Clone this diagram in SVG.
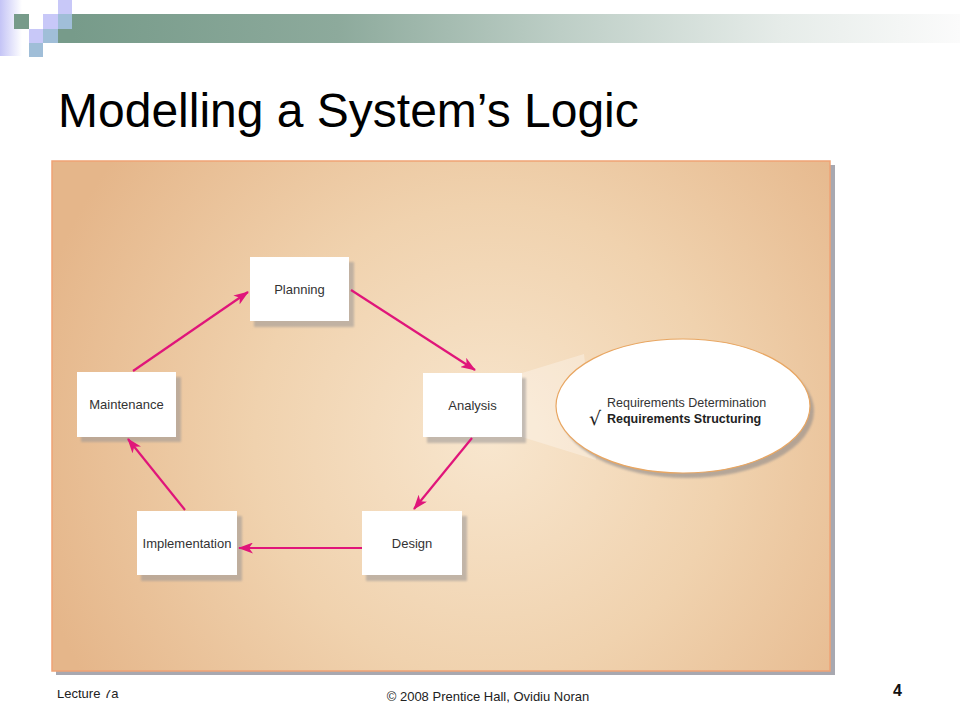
<svg xmlns="http://www.w3.org/2000/svg" width="960" height="720" viewBox="0 0 960 720">
<style>
.lbl{font-family:"Liberation Sans",Arial,sans-serif;font-size:13px;fill:#333;text-anchor:middle}
.box{fill:#fff}
.shd{fill:#9a9696;opacity:0.55}
.conn{stroke:#E0157A;stroke-width:2.2;fill:none;marker-end:url(#ah)}
.foot{font-family:"Liberation Sans",Arial,sans-serif;font-size:13px;fill:#222}
</style>
<defs>
<linearGradient id="bar" x1="0" y1="0" x2="1" y2="0">
<stop offset="0" stop-color="#779B8A"/>
<stop offset="0.3" stop-color="#8DAA9C"/>
<stop offset="0.55" stop-color="#BDCEC6"/>
<stop offset="0.8" stop-color="#E6ECE9"/>
<stop offset="1" stop-color="#FBFBFB"/>
</linearGradient>
<linearGradient id="lav" x1="0" y1="0" x2="1" y2="0">
<stop offset="0" stop-color="#C4C4F6"/>
<stop offset="1" stop-color="#FFFFFF"/>
</linearGradient>
<radialGradient id="bg" cx="490" cy="440" r="470" gradientUnits="userSpaceOnUse">
<stop offset="0" stop-color="#F8E6CE"/>
<stop offset="0.5" stop-color="#F0D2AE"/>
<stop offset="1" stop-color="#E5B68A"/>
</radialGradient>
<filter id="blur" x="-10%" y="-10%" width="120%" height="120%"><feGaussianBlur stdDeviation="1.2"/></filter>
<marker id="ah" viewBox="0 0 15 11" refX="14" refY="5.5" markerWidth="15" markerHeight="11" markerUnits="userSpaceOnUse" orient="auto">
<path d="M0,0 L15,5.5 L0,11 L4,5.5 z" fill="#E0157A"/>
</marker>
<clipPath id="lc"><rect x="0" y="690" width="300" height="30"/></clipPath>
</defs>
<rect width="960" height="720" fill="#fff"/>
<g id="header">
<rect x="0" y="0" width="22" height="56" fill="url(#lav)"/>
<rect x="72" y="14" width="888" height="29" fill="url(#bar)"/>
<rect x="58" y="29" width="14" height="14" fill="#779B8A"/>
<rect x="14" y="14" width="15" height="15" fill="#779B8A"/>
<rect x="58" y="0" width="14" height="14" fill="#C8C8F8"/>
<rect x="43" y="14" width="15" height="15" fill="#C8C8F8"/>
<rect x="58" y="14" width="14" height="15" fill="#A0BED8"/>
<rect x="29" y="29" width="14" height="14" fill="#C8C8F8"/>
<rect x="43" y="29" width="15" height="14" fill="#A0BED8"/>
<rect x="29" y="43" width="14" height="14" fill="#A0BED8"/>
</g>
<text id="title" x="58" y="127" font-family="'Liberation Sans',Arial,sans-serif" font-size="48" fill="#000">Modelling a System’s Logic</text>
<g id="panel">
<rect x="56" y="165" width="779" height="510" fill="#A8A8B0"/>
<rect x="52" y="161" width="778" height="510" fill="url(#bg)" stroke="#EFA274" stroke-width="1.5"/>
</g>
<g id="callout">
<polygon points="522,373 584,354 596,460 522,437" fill="#fff" opacity="0.3"/>
<ellipse cx="687" cy="411" rx="127" ry="67" fill="#8f8a8a" opacity="0.6" filter="url(#blur)"/>
<ellipse cx="683" cy="406" rx="127" ry="67" fill="#fff" stroke="#E8A662" stroke-width="1.2"/>
<text x="607" y="407" font-family="'Liberation Sans',Arial,sans-serif" font-size="12.5" fill="#333">Requirements Determination</text>
<text x="589" y="425" font-family="'DejaVu Sans',sans-serif" font-size="19" fill="#222">√</text>
<text x="607" y="423" font-family="'Liberation Sans',Arial,sans-serif" font-size="12.5" font-weight="bold" fill="#222">Requirements Structuring</text>
</g>
<g id="planning">
<rect class="shd" x="254" y="262" width="100" height="65" filter="url(#blur)"/>
<rect class="box" x="250" y="257" width="99" height="64"/>
<text class="lbl" x="299.5" y="294">Planning</text>
</g>
<g id="analysis">
<rect class="shd" x="427" y="378" width="99" height="65" filter="url(#blur)"/>
<rect class="box" x="423" y="373" width="99" height="64"/>
<text class="lbl" x="472.5" y="410">Analysis</text>
</g>
<g id="maintenance">
<rect class="shd" x="81" y="377" width="100" height="65" filter="url(#blur)"/>
<rect class="box" x="77" y="372" width="99" height="65"/>
<text class="lbl" x="126.5" y="409">Maintenance</text>
</g>
<g id="implementation">
<rect class="shd" x="141" y="516" width="101" height="65" filter="url(#blur)"/>
<rect class="box" x="137" y="511" width="100" height="64"/>
<text class="lbl" x="187" y="548">Implementation</text>
</g>
<g id="design">
<rect class="shd" x="366" y="516" width="101" height="65" filter="url(#blur)"/>
<rect class="box" x="362" y="511" width="100" height="64"/>
<text class="lbl" x="412" y="548">Design</text>
</g>
<g id="connectors">
<line class="conn" x1="133" y1="371" x2="248" y2="292"/>
<line class="conn" x1="351" y1="290" x2="475" y2="370"/>
<line class="conn" x1="472" y1="438" x2="414" y2="509"/>
<line class="conn" x1="362" y1="548" x2="239" y2="548"/>
<line class="conn" x1="185" y1="510" x2="128" y2="439"/>
</g>
<g id="footer">
<text class="foot" x="57" y="698" clip-path="url(#lc)">Lecture 7a</text>
<text class="foot" x="488" y="701" text-anchor="middle">© 2008 Prentice Hall, Ovidiu Noran</text>
<text x="893" y="696" font-family="'Liberation Sans',Arial,sans-serif" font-size="16" font-weight="bold" fill="#111">4</text>
</g>
</svg>
